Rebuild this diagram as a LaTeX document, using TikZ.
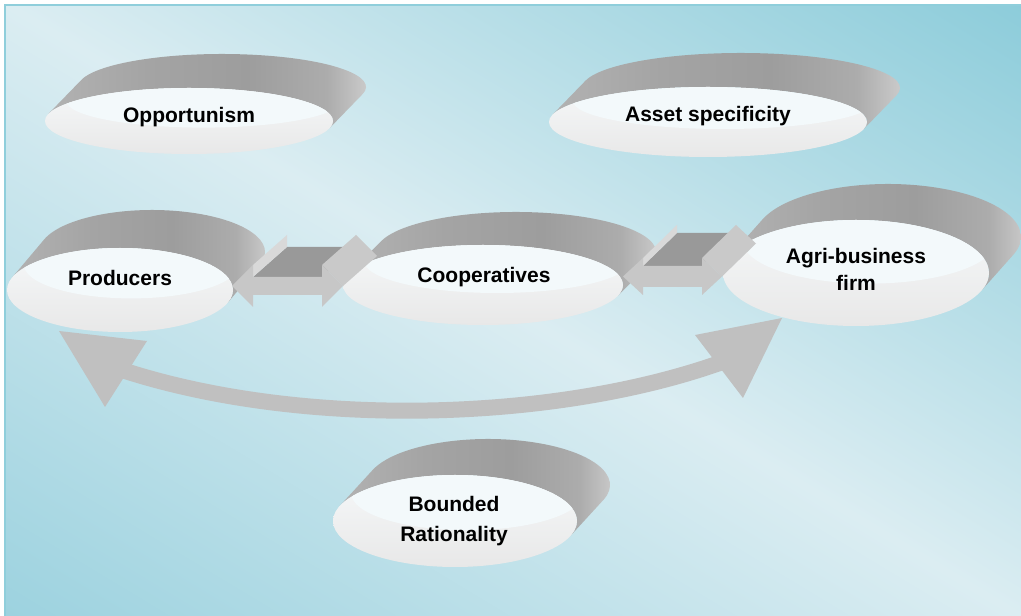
\documentclass[tikz,border=0pt]{standalone}
\usepackage{fontspec}
\setmainfont{Liberation Sans}
\usepackage{tikz}
\usetikzlibrary{calc,shapes.geometric,arrows.meta}

\definecolor{bgdark}{HTML}{8CCCDA}
\definecolor{bglow}{HTML}{9CD2DF}
\definecolor{bglight}{HTML}{DBEDF2}
\definecolor{framecol}{HTML}{8FCEDB}
\definecolor{bandA}{HTML}{B2B2B2}
\definecolor{bandB}{HTML}{A4A4A4}
\definecolor{bandC}{HTML}{9D9D9D}
\definecolor{bandD}{HTML}{ACACAC}
\definecolor{bandE}{HTML}{D4D4D4}
\definecolor{discTop}{HTML}{F6F8F9}
\definecolor{discBot}{HTML}{E8E8E8}
\definecolor{hilitecol}{HTML}{F3F9FB}
\definecolor{arrowgray}{HTML}{C0C0C0}

\pgfdeclarehorizontalshading{bandshade}{100bp}{color(0bp)=(bandA); color(25bp)=(bandA); color(40bp)=(bandB); color(55bp)=(bandC); color(67bp)=(bandD); color(75bp)=(bandE); color(100bp)=(bandE)}

\tikzset{
  lbl/.style={font=\fontsize{21}{27}\selectfont\bfseries, inner sep=0pt, align=center},
  front/.style={ellipse, inner sep=0pt, outer sep=0pt, top color=discTop, bottom color=discBot},
  hilite/.style={fill=hilitecol},
  arrowtop/.style={fill=black!40},
  arrowedge/.style={fill=black!15},
  arrowside/.style={fill=black!21},
  arrowfront/.style={fill=black!22},
}

% tilted disc: name, x, y, x radius, y radius, depth x, depth y
\newcommand\tiltdisc[7]{%
  \pgfmathsetmacro\tA{atan(-(#5*#6)/(#4*#7))}%
  \pgfmathsetmacro\tB{\tA+180}%
  \shade[shading=bandshade] (#2,#3) ++(\tA:#4 and #5) -- ++(#6,#7)
    arc[start angle=\tA, end angle=\tB, x radius=#4, y radius=#5]
    -- ++(-#6,-#7)
    arc[start angle=\tB, end angle=\tA, x radius=#4, y radius=#5] -- cycle;
  \node[front, minimum width=2*#4, minimum height=2*#5] (#1) at (#2,#3) {};
  \begin{scope}
    \clip (#2,#3) ellipse[x radius=#4, y radius=#5];
    \fill[hilite] (#2+0.1*#4,#3+0.6*#5) ellipse[x radius=0.95*#4, y radius=0.8*#5];
  \end{scope}
}

% 3d double arrow: left tip, right tip, y, head half, shaft half, head length, depth x, depth y
\newcommand\blockarrow[8]{%
  \fill[arrowtop] (#1+#6,#3+#5) -- ++(#7,#8) -- (#2-#6+#7,#3+#5+#8) -- (#2-#6,#3+#5) -- cycle;
  \fill[arrowedge] (#1+#6,#3+#5) -- (#1+#6,#3+#4) -- ++(#7,#8) -- (#1+#6+#7,#3+#5+#8) -- cycle;
  \fill[arrowside] (#2-#6,#3+#4) -- ++(#7,#8) -- (#2+#7,#3+#8) -- (#2,#3) -- cycle;
  \fill[arrowfront] (#1,#3) -- (#1+#6,#3+#4) -- (#1+#6,#3+#5) -- (#2-#6,#3+#5)
    -- (#2-#6,#3+#4) -- (#2,#3) -- (#2-#6,#3-#4) -- (#2-#6,#3-#5)
    -- (#1+#6,#3-#5) -- (#1+#6,#3-#4) -- cycle;
}

\begin{document}
\begin{tikzpicture}[x=1pt, y=1pt]
\useasboundingbox (0,0) rectangle (1021,616);
\fill[white] (0,0) rectangle (1021,616);
\begin{scope}
  \clip (5,-5) rectangle (1030,611);
  \begin{scope}[transform canvas={rotate around={-31.1:(510.5,308)}}]
    \shade[top color=bgdark, bottom color=bglow, middle color=bglight]
      (-200,-219) rectangle (1221,835);
  \end{scope}
\end{scope}
\draw[framecol, line width=2] (5,-5) -- (5,611) -- (1030,611);

\tiltdisc{opp}{189}{495}{144}{33}{33}{34}
\tiltdisc{asset}{708}{494}{159}{35}{33}{34}
\tiltdisc{prod}{120}{326}{113}{42}{32}{38}
\tiltdisc{coop}{483}{331}{140}{40}{33}{33}
\tiltdisc{agri}{856}{343}{133}{53}{32}{36}
\tiltdisc{bound}{455}{95}{122}{46}{33}{36}

\blockarrow{232}{343}{330}{21}{9}{21}{34}{30}
\blockarrow{623}{722}{339.5}{18.5}{10.5}{20}{34}{33}

\coordinate (lend) at (116,248);
\coordinate (rend) at (728,256);
\draw[arrowgray, line width=16] (lend) .. controls (300,186) and (560,194) .. (rend);
\fill[arrowgray] (59,285) -- (147,275) -- (105,209) -- cycle;
\fill[arrowgray] (695,281) -- (782,298) -- (743,218) -- cycle;

\node[lbl, anchor=base] (opplbl) at (189,493) {Opportunism};
\node[lbl, anchor=base] (assetlbl) at (708,494) {Asset specificity};
\node[lbl, anchor=base] (prodlbl) at (120,330) {Producers};
\node[lbl, anchor=base] (cooplbl) at (484,333) {Cooperatives};
\node[lbl] (agrilbl) at (856,347) {Agri-business\\firm};
\node[lbl] (boundlbl) at (454,94.5) {Bounded\\[3pt]Rationality};
\end{tikzpicture}
\end{document}
